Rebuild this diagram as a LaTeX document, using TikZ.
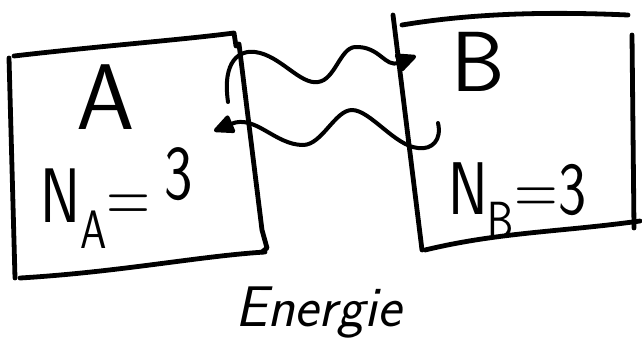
\documentclass[tikz,border=0pt]{standalone}
\usetikzlibrary{arrows.meta}
\definecolor{ink}{HTML}{000000}
\tikzset{
  pen/.style={draw=ink, line width=3.6pt, line cap=round, line join=round},
  wave/.style={pen, line width=3pt, -{Triangle[length=17pt,width=15pt,round]}},
  hand/.style={font=\sffamily, text=ink, inner sep=0pt}
}

\begin{document}
\begin{tikzpicture}[x=0.75pt,y=-0.75pt]
\useasboundingbox (0,0) rectangle (642,361);
% box A
\draw[pen] (9,58) -- (15,278);
\draw[pen] (14,56) .. controls (100,46) and (180,40) .. (234,33) -- (236,46);
\draw[pen] (239,44) -- (262,230) -- (267,248) -- (262,252);
\draw[pen] (20,278) .. controls (120,272) and (200,256) .. (265,252);
% box B
\draw[pen] (393,15) -- (422,250);
\draw[pen] (402,25) .. controls (480,12) and (560,12) .. (628,15);
\draw[pen] (632,35) -- (634,228);
\draw[pen] (425,250) .. controls (500,232) and (560,232) .. (640,221);
% labels
\node[hand, font=\sffamily\fontsize{70}{70}\selectfont] (labA) at (106,97) {A};
\node[hand, font=\sffamily\fontsize{58}{58}\selectfont, anchor=base west] (numA) at (40,222)
  {\scalebox{0.78}[1]{N\textsubscript{A}\kern-1pt=\kern14pt\raisebox{17pt}{3}}};
\node[hand, font=\sffamily\fontsize{64}{64}\selectfont] (labB) at (478,62) {B};
\node[hand, font=\sffamily\fontsize{56}{56}\selectfont, anchor=base west] (numB) at (448,214)
  {\scalebox{0.8}[1]{N\textsubscript{B}=3}};
\node[hand, font=\sffamily\itshape\fontsize{43}{43}\selectfont] (energy) at (318,313) {Energie};
% energy exchange
\coordinate (fromA) at (228,102);
\coordinate (toB) at (416,56);
\coordinate (fromB) at (438,123);
\coordinate (toA) at (214,131);
\draw[wave] (fromA) .. controls (222,60) and (240,50) .. (255,52)
  .. controls (280,55) and (300,85) .. (318,82)
  .. controls (335,80) and (340,48) .. (355,47)
  .. controls (380,46) and (385,68) .. (toB);
\draw[wave] (fromB) .. controls (442,140) and (432,150) .. (418,148)
  .. controls (395,146) and (370,110) .. (352,110)
  .. controls (335,110) and (322,145) .. (303,145)
  .. controls (275,145) and (255,114) .. (toA);
\end{tikzpicture}
\end{document}
